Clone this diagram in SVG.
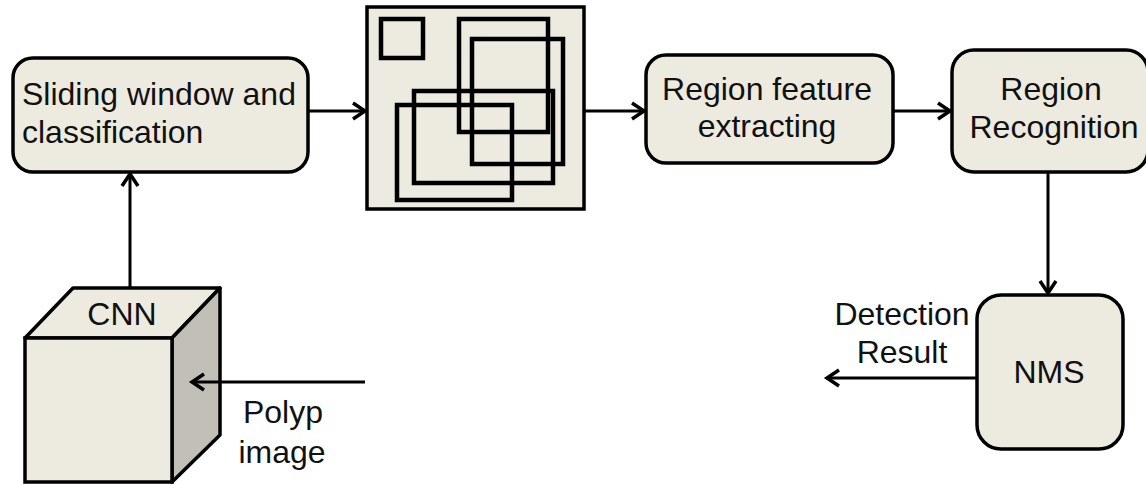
<svg xmlns="http://www.w3.org/2000/svg" width="1146" height="484" viewBox="0 0 1146 484">
  <style>
    .box { fill: #edebe0; stroke: #000; stroke-width: 3.5; }
    .side { fill: #c1bfb6; stroke: #000; stroke-width: 3.5; stroke-linejoin: round; }
    .win { fill: none; stroke: #000; stroke-width: 4.5; }
    .edge { fill: none; stroke: #000; stroke-width: 3; }
    text { font-family: "Liberation Sans", Arial, sans-serif; font-size: 32px; fill: #111; }
    .c { text-anchor: middle; }
  </style>
  <defs>
    <marker id="arrow" markerUnits="userSpaceOnUse" markerWidth="20" markerHeight="20" viewBox="-14 -10 16 20" refX="0" refY="0" orient="auto">
      <path d="M -12 -8 L 0 0 L -12 8" fill="none" stroke="#000" stroke-width="3.5" stroke-linejoin="miter"/>
    </marker>
  </defs>

  <!-- sliding window node -->
  <g id="sliding-window">
    <rect class="box" x="13" y="58" width="295" height="114" rx="20"/>
    <text x="22" y="105">Sliding window and</text>
    <text x="22" y="143">classification</text>
  </g>

  <!-- candidate windows -->
  <g id="candidates">
    <rect class="box" x="367" y="7" width="217" height="202"/>
    <rect class="win" x="381" y="19" width="42" height="39"/>
    <rect class="win" x="459" y="19" width="89" height="113"/>
    <rect class="win" x="472" y="39" width="91" height="125"/>
    <rect class="win" x="414" y="91" width="139" height="92"/>
    <rect class="win" x="397" y="105" width="115" height="95"/>
  </g>

  <!-- region feature node -->
  <g id="region-feature">
    <rect class="box" x="646" y="55" width="247" height="108" rx="20"/>
    <text class="c" x="767" y="100">Region feature</text>
    <text class="c" x="767" y="137">extracting</text>
  </g>

  <!-- region recognition node -->
  <g id="region-recognition">
    <rect class="box" x="952" y="50" width="196" height="122" rx="22"/>
    <text class="c" x="1051" y="100">Region</text>
    <text class="c" x="1054" y="138">Recognition</text>
  </g>

  <!-- NMS node -->
  <g id="nms">
    <rect class="box" x="977" y="295" width="146" height="154" rx="24"/>
    <text class="c" x="1049" y="383">NMS</text>
  </g>

  <!-- CNN cube -->
  <g id="cnn">
    <polygon class="box" points="25,338 73,288 220,288 172,338" stroke-linejoin="round"/>
    <polygon class="side" points="172,338 220,288 220,435 172,482"/>
    <rect class="box" x="25" y="338" width="147" height="144"/>
    <text class="c" x="122" y="325">CNN</text>
  </g>

  <!-- edge labels -->
  <g id="labels">
    <text class="c" x="283" y="423">Polyp</text>
    <text class="c" x="282" y="463">image</text>
    <text class="c" x="902" y="325">Detection</text>
    <text class="c" x="902" y="363">Result</text>
  </g>

  <!-- connectors (drawn last so the input arrow sits on the cube face) -->
  <g id="connectors">
    <line class="edge" x1="308" y1="111" x2="365" y2="111" marker-end="url(#arrow)"/>
    <line class="edge" x1="584" y1="111" x2="644" y2="111" marker-end="url(#arrow)"/>
    <line class="edge" x1="893" y1="111" x2="950" y2="111" marker-end="url(#arrow)"/>
    <line class="edge" x1="1048" y1="172" x2="1048" y2="293" marker-end="url(#arrow)"/>
    <line class="edge" x1="977" y1="378" x2="827" y2="378" marker-end="url(#arrow)"/>
    <line class="edge" x1="130" y1="288" x2="130" y2="174" marker-end="url(#arrow)"/>
    <line class="edge" x1="365" y1="382" x2="192" y2="382" marker-end="url(#arrow)"/>
  </g>
</svg>
